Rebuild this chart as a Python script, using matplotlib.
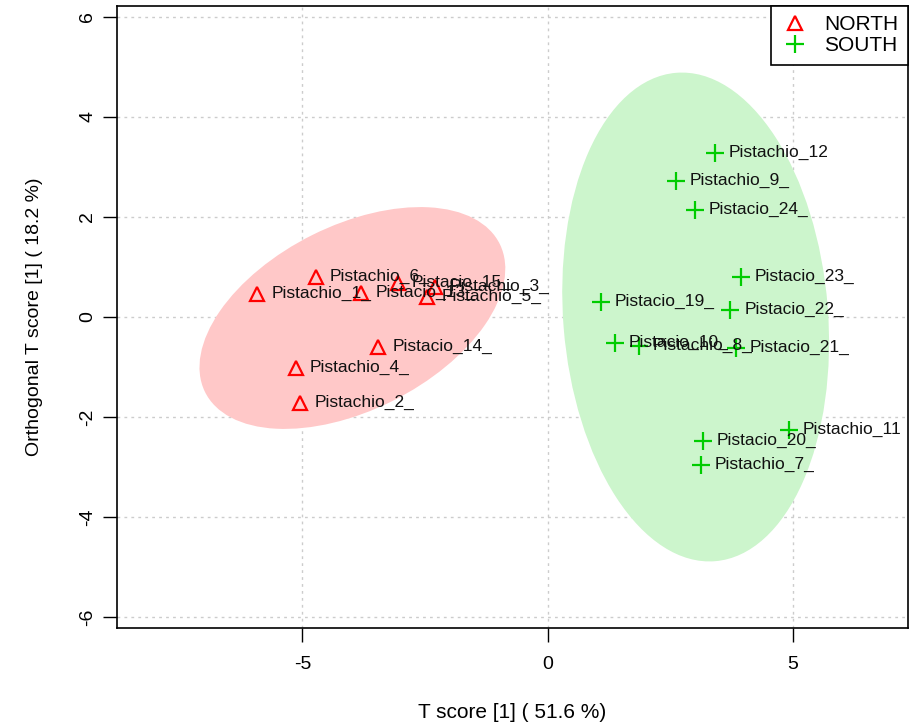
import matplotlib
matplotlib.use("Agg")
import matplotlib.pyplot as plt
from matplotlib.patches import Ellipse

plt.rcParams['font.family'] = ['Liberation Sans', 'DejaVu Sans']
plt.rcParams['axes.unicode_minus'] = False

north_labels = ["Pistachio_6_", "Pistachio_1_", "Pistacio_13_", "Pistacio_15_", "Pistachio_3_",
                "Pistachio_5_", "Pistacio_14_", "Pistachio_4_", "Pistachio_2_"]
north_x = [-4.73, -5.92, -3.80, -3.06, -2.29, -2.45, -3.45, -5.14, -5.04]
north_y = [0.80, 0.46, 0.48, 0.68, 0.60, 0.40, -0.60, -1.02, -1.72]

south_labels = ["Pistachio_12", "Pistachio_9_", "Pistacio_24_", "Pistacio_23_", "Pistacio_19_",
                "Pistacio_22_", "Pistacio_10_", "Pistachio_8_", "Pistacio_21_", "Pistachio_11",
                "Pistacio_20_", "Pistachio_7_"]
south_x = [3.41, 2.61, 3.00, 3.94, 1.08, 3.73, 1.37, 1.86, 3.84, 4.92, 3.16, 3.12]
south_y = [3.28, 2.72, 2.14, 0.80, 0.30, 0.14, -0.52, -0.58, -0.62, -2.26, -2.48, -2.96]

# ellipses: center x, center y, width, height, angle
north_ell = (-3.98, -0.02, 6.7, 3.7, 26)
south_ell = (3.02, 0.0, 9.8, 5.4, 94.7)

xticks = [-5, 0, 5]
yticks = [-6, -4, -2, 0, 2, 4, 6]

fig = plt.figure(figsize=(9.11, 7.24), dpi=100)
ax = fig.add_axes([117/911, 1-628/724, (908-117)/911, (628-6)/724])
ax.set_xlim(-8.78, 7.35)
ax.set_ylim(-6.22, 6.22)

for e, fc in [(north_ell, '#FFC8C8'), (south_ell, '#CCF5CC')]:
    ax.add_patch(Ellipse((e[0], e[1]), e[2], e[3], angle=e[4], facecolor=fc,
                         edgecolor='none', zorder=1))

for t in xticks:
    ax.axvline(t, color='#cccccc', ls=(0, (2, 3)), lw=1, zorder=0.5)
for t in yticks:
    ax.axhline(t, color='#cccccc', ls=(0, (2, 3)), lw=1, zorder=0.5)

ax.plot(north_x, north_y, ls='none', marker='^', mfc='none', mec='#FF0000', ms=10, mew=1.6, zorder=3)
ax.plot(south_x, south_y, ls='none', marker='+', color='#00CC00', ms=13, mew=1.6, zorder=3)

for lab, x, y in list(zip(north_labels, north_x, north_y)) + list(zip(south_labels, south_x, south_y)):
    ax.annotate(lab, (x, y), xytext=(14, 1), textcoords='offset pixels', ha='left', va='center',
                fontsize=12.5, color='#111111', zorder=4)

h1, = ax.plot([], [], ls='none', marker='^', mfc='none', mec='#FF0000', ms=10, mew=1.6)
h2, = ax.plot([], [], ls='none', marker='+', color='#00CC00', ms=13, mew=1.6)
leg = ax.legend([h1, h2], ["NORTH", "SOUTH"], loc='upper right', borderaxespad=0, fancybox=False,
                framealpha=1, edgecolor='black', fontsize=15, handletextpad=0.7, borderpad=0.45,
                labelspacing=0.1, handlelength=1.4)
leg.get_frame().set_linewidth(1.2)

ax.set_xticks(xticks)
ax.set_yticks(yticks)
ax.tick_params(direction='out', length=10, width=1, labelsize=14)
ax.tick_params(axis='x', pad=10)
ax.tick_params(axis='y', pad=5)
for lab in ax.get_yticklabels():
    lab.set_rotation(90)
    lab.set_va('center')
for s in ax.spines.values():
    s.set_linewidth(1.2)

ax.set_xlabel("T score [1] ( 51.6 %)", fontsize=15, labelpad=22)
ax.set_ylabel("Orthogonal T score [1] ( 18.2 %)", fontsize=14, labelpad=26)

fig.savefig("out.png", dpi=100)
